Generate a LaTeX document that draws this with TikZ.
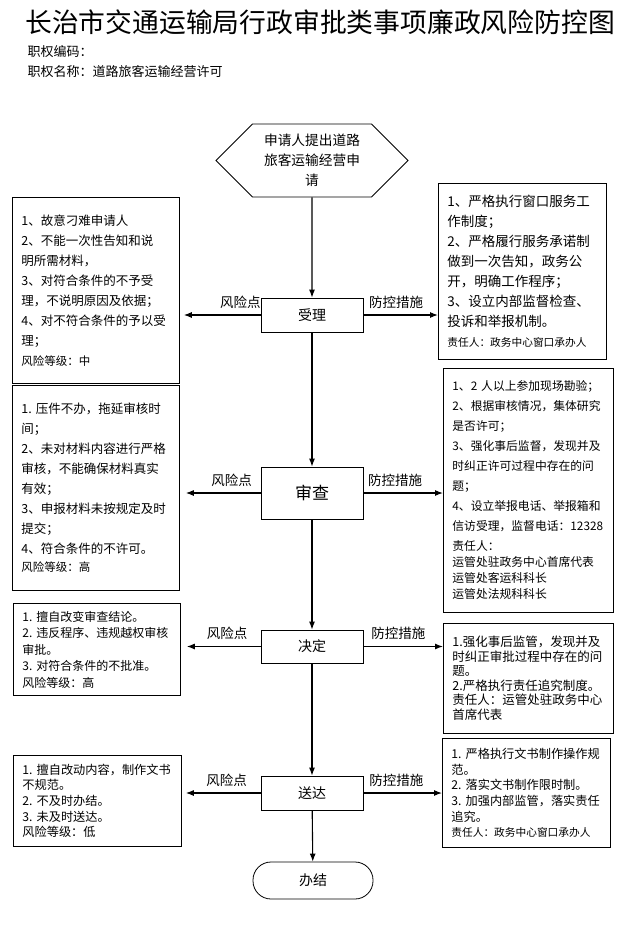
\documentclass[tikz,border=0pt]{standalone}
\usepackage{fontspec}
\setmainfont{Noto Sans CJK SC}
\usetikzlibrary{arrows.meta,shapes.symbols}

\begin{document}
\begin{tikzpicture}[x=1pt, y=-1pt,
    procbox/.style={draw, line width=0.8pt, minimum width=102pt, minimum height=34pt, font=\fontsize{14}{16}\selectfont},
    riskbox/.style={draw, line width=0.8pt, anchor=north west, align=left, inner xsep=9pt, inner ysep=4pt, font=\fontsize{12.5}{20}\selectfont},
    ctrlbox/.style={riskbox},
    lbl/.style={font=\fontsize{13.5}{15}\selectfont, inner sep=0pt, above=6pt},
    arr/.style={-{Latex[length=8pt,width=6pt]}, line width=1.1pt}
]
\useasboundingbox (0,0) rectangle (643,952);

% title
\node (title) at (320,22) {\fontsize{26.8}{30}\selectfont 长治市交通运输局行政审批类事项廉政风险防控图};
\node[anchor=west, font=\fontsize{13}{15}\selectfont] (code) at (24,52) {职权编码：};
\node[anchor=west, font=\fontsize{13}{15}\selectfont] (name) at (24,72) {职权名称：道路旅客运输经营许可};

% main flow
\node[draw, line width=0.8pt, signal, signal to=west and east, signal pointer angle=90,
      minimum width=192pt, minimum height=73pt, inner sep=1pt, align=center,
      font=\fontsize{13.7}{20}\selectfont] (start) at (312,160.5) {申请人提出道路\\旅客运输经营申\\请};
\node[procbox] (shouli) at (312,315) {受理};
\node[procbox, minimum height=52pt, font=\fontsize{17}{19}\selectfont] (shencha) at (312,493) {审查};
\node[procbox, minimum height=33pt] (jueding) at (312,646.5) {决定};
\node[procbox] (songda) at (312,793) {送达};
\node[draw, line width=0.8pt, rounded corners=18pt, minimum width=120pt, minimum height=37pt,
      font=\fontsize{14}{16}\selectfont] (banjie) at (313,880.5) {办结};

% risk points
\node[riskbox, text width=149pt, minimum height=186pt] (risk1) at (12,197) {%
1、故意刁难申请人\\
2、不能一次性告知和说\\
明所需材料，\\
3、对符合条件的不予受\\
理，不说明原因及依据；\\
4、对不符合条件的予以受\\
理；\\
{\fontsize{11.5}{14}\selectfont 风险等级：中}};
\node[riskbox, text width=149pt, minimum height=205pt] (risk2) at (12,385) {%
1.~压件不办，拖延审核时\\
间；\\
2、未对材料内容进行严格\\
审核，不能确保材料真实\\
有效；\\
3、申报材料未按规定及时\\
提交；\\
4、符合条件的不许可。\\[-2pt]
{\fontsize{11.5}{14}\selectfont 风险等级：高}};
\node[riskbox, text width=149pt, minimum height=92pt, font=\fontsize{12}{16.5}\selectfont] (risk3) at (13,603) {%
1.~擅自改变审查结论。\\
2.~违反程序、违规越权审核\\
审批。\\
3.~对符合条件的不批准。\\
风险等级：高};
\node[riskbox, text width=150pt, minimum height=91pt, font=\fontsize{12.2}{15.7}\selectfont] (risk4) at (13,755) {%
1.~擅自改动内容，制作文书\\
不规范。\\
2.~不及时办结。\\
3.~未及时送达。\\
风险等级：低};

% control measures
\node[ctrlbox, text width=150pt, minimum height=176pt, font=\fontsize{13.5}{20}\selectfont] (ctrl1) at (438,183) {%
1、严格执行窗口服务工\\
作制度；\\
2、严格履行服务承诺制\\
做到一次告知，政务公\\
开，明确工作程序；\\
3、设立内部监督检查、\\
投诉和举报机制。\\
{\fontsize{10.7}{14}\selectfont 责任人：政务中心窗口承办人}};
\node[ctrlbox, text width=152pt, minimum height=244pt, font=\fontsize{11.8}{20}\selectfont] (ctrl2) at (443,368) {%
1、2~人以上参加现场勘验；\\
2、根据审核情况，集体研究\\
是否许可；\\
3、强化事后监督，发现并及\\
时纠正许可过程中存在的问\\
题；\\
4、设立举报电话、举报箱和\\
信访受理，监督电话：12328\\
责任人：\\[-4pt]
运管处驻政务中心首席代表\\[-4pt]
运管处客运科科长\\[-4pt]
运管处法规科科长};
\node[ctrlbox, text width=152pt, minimum height=110pt, font=\fontsize{12.5}{14.5}\selectfont] (ctrl3) at (443,623) {%
1.强化事后监管，发现并及\\
时纠正审批过程中存在的问\\
题。\\
2.严格执行责任追究制度。\\
责任人：运管处驻政务中心\\
首席代表};
\node[ctrlbox, text width=150pt, minimum height=109pt, font=\fontsize{12.2}{15.7}\selectfont] (ctrl4) at (442,738) {%
1.~严格执行文书制作操作规\\
范。\\
2.~落实文书制作限时制。\\
3.~加强内部监管，落实责任\\
追究。\\
{\fontsize{10.7}{14}\selectfont 责任人：政务中心窗口承办人}};

% flow arrows
\draw[arr] (start) -- (shouli);
\draw[arr] (shouli) -- (shencha);
\draw[arr] (shencha) -- (jueding);
\draw[arr] (jueding) -- (songda);
\draw[arr] (songda) -- (banjie);

% side arrows
\draw[arr, shorten >=4pt] (shouli.west) -- node[lbl, pos=0.25] {风险点} (shouli.west -| risk1.east);
\draw[arr] (shouli.east) -- node[lbl, pos=0.44] {防控措施} (shouli.east -| ctrl1.west);
\draw[arr, shorten >=6pt] (shencha.west) -- node[lbl, pos=0.36] {风险点} (shencha.west -| risk2.east);
\draw[arr] (shencha.east) -- node[lbl, pos=0.4] {防控措施} (shencha.east -| ctrl2.west);
\draw[arr, shorten >=6pt] (jueding.west) -- node[lbl, pos=0.42] {风险点} (jueding.west -| risk3.east);
\draw[arr] (jueding.east) -- node[lbl, pos=0.44] {防控措施} (jueding.east -| ctrl3.west);
\draw[arr, shorten >=4pt] (songda.west) -- node[lbl, pos=0.43] {风险点} (songda.west -| risk4.east);
\draw[arr] (songda.east) -- node[lbl, pos=0.42] {防控措施} (songda.east -| ctrl4.west);
\end{tikzpicture}
\end{document}
